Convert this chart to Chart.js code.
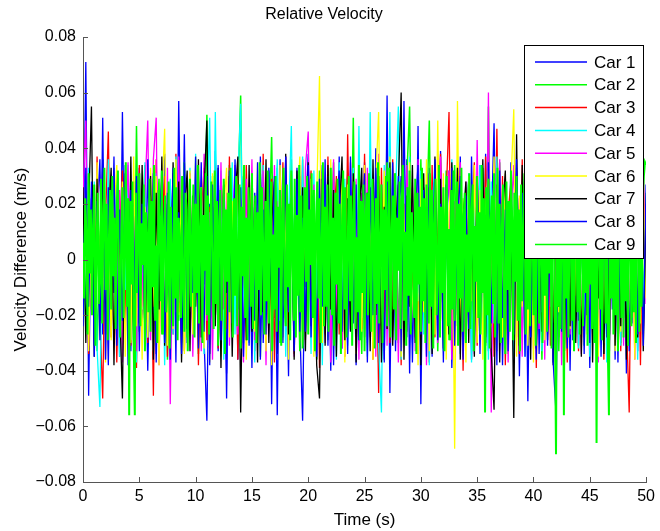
<!DOCTYPE html>
<html>
<head>
<meta charset="utf-8">
<script src="https://cdn.jsdelivr.net/npm/chart.js@4.4.1/dist/chart.umd.min.js"></script>
<style>
  html, body { margin: 0; padding: 0; background: #fff; }
  #wrap { width: 660px; height: 531px; }
</style>
</head>
<body>
<div id="wrap"><canvas id="velocityChart" width="660" height="531"></canvas></div>
<script>
const timeSpan = 50;
const carNames = ['Car 1', 'Car 2', 'Car 3', 'Car 4', 'Car 5', 'Car 6', 'Car 7', 'Car 8', 'Car 9'];
const carColors = ['#0000ff', '#00ff00', '#ff0000', '#00ffff', '#ff00ff', '#ffff00', '#000000', '#0000ff', '#00ff00'];
const carLineWidths = [1.3, 1.5, 1.3, 1.3, 1.3, 1.3, 1.3, 1.3, 2];
const xTicks = [0, 5, 10, 15, 20, 25, 30, 35, 40, 45, 50];
const yTicks = [-0.08, -0.06, -0.04, -0.02, 0, 0.02, 0.04, 0.06, 0.08];

const car1 = [
  -8, 71, -49, 22, -31, 14, 36, -27, 9, -38, 30, -12, 25, -35, 53, -20, 11, -33, 28, -6,
  33, -25, 18, -40, 7, 29, -34, 15, -19, 38, -28, 4, 31, -37, 57, -16, 45, -30, 12, -24,
  27, -9, 35, -29, -58, 20, -14, 39, -33, 6, 26, -41, 17, -22, 34, -36, 10, 30, -26, 19,
  -39, 24, -11, 37, -30, 8, 32, -52, 21, -17, 36, -28, 13, -42, 29, -5, 33, -24, -58, 16,
  38, -21, 25, -36, 11, 34, -27, 19, -40, 28, -13, 37, -32, 5, 31, -25, 22, -38, 15, -18,
  35, -30, 9, -26, 40, -15, 27, -37, 59, -48, 23, -33, 14, 30, -22, 36, -41, 18, -28, 48,
  -52, 26, -10, 33, -35, 21, -24, 39, -29, 12, 32, -39, 17, -20, 37, -31, 7, 29, -36, 24,
  -15, 34, -27, 38, -33, 10, 49, -23, 28, -38, 19, -12, 35, -30, 25, -42, 14, 31, -51, 20,
  -26, 37, -34, 13, 30, -21, 39, -37, 8, -28, 33, -16, 26, -40, 22, 36, -31, 11, -25, 34,
  -39, 18, 29, -35, 24, -19, 38, -29, 15, -36, 31, -8, 27, -41, 35, -23, 20, -33, 43, -27,
  12
];
const car2 = [
  14, -22, 30, -18, 25, -33, 8, 27, -29, 19, -11, 33, -24, 16, -35, 28, -7, 21, -30, 48,
  -26, 12, 34, -19, 23, -31, 10, 29, -27, 17, -36, 24, -13, 31, -22, 6, 35, -28, 20, -15,
  26, -34, 18, -9, 52, -25, 30, -20, 13, -32, 27, -17, 34, -26, 9, 22, 59, -30, 15, -23,
  31, -12, 25, -35, 19, -28, 7, 44, -21, 33, -30, 14, 28, -18, 36, -27, 11, -33, 23, -10,
  29, -24, 17, -36, 32, -14, 26, -29, 8, 35, -22, 20, -31, 13, 30, -19, 51, -26, 16, -34,
  24, -11, 33, -28, 18, -37, 27, -16, 35, -23, 10, 31, -30, 22, -8, 29, 55, -25, 14, -32,
  36, -20, 12, 50, -27, 25, -33, 19, -14, 32, -29, 9, 34, -24, 21, -35, 15, 28, -18, 30,
  -26, 13, 33, -31, 55, -21, 27, -12, 35, -28, 18, -34, 23, -9, 31, -25, 16, -30, 29, -17,
  34, -23, 11, -36, 26, -15, 30, -27, 20, -33, 8, 32, -22, 17, -29, 35, -13, 25, -31, 19,
  -20, 31, -26, 14, 28, -34, 22, -10, 33, -24, 18, -30, 27, -16, 36, -21, 12, -28, 30, -19,
  24
];
const car3 = [
  -12, 29, -34, 18, -25, 37, -20, -50, 15, 46, -28, 21, -37, 9, 32, -23, 26, -31, 13, -39,
  34, -16, 27, -30, 20, -49, 36, -24, 11, 30, -35, 17, -27, 38, -19, 25, -33, 8, 31, -26,
  22, -38, 14, 33, -29, 19, -21, 36, -32, 10, 28, -25, 37, -15, 24, -36, 18, -28, 34, -11,
  27, -33, 16, -22, 38, -30, 12, 29, -37, 21, -18, 35, -26, 9, 31, -34, 23, -13, 36, -29,
  15, 32, -24, 19, -39, 26, -16, 37, -31, 11, 30, -27, 22, -35, 45, -20, 28, -32, 14, -25,
  38, -14, 25, -36, 18, -48, 33, -22, 12, -30, 36, -19, 27, -38, 20, -26, 31, -11, 24, -34,
  29, -21, 16, -37, 34, -28, 10, 38, -25, 22, 53, -33, 19, -16, 32, -40, 26, -23, 13, 35,
  -31, 24, -18, 37, -27, 14, -35, 47, -22, 30, -38, 17, 28, -29, 11, -34, 36, -20, 25, -13,
  33, -39, 21, -26, 15, 38, -31, 27, -17, 34, -24, 12, -37, 29, -20, 23, -33, 37, -28, 16,
  -22, 35, -30, 19, 31, -36, 25, -14, 38, -27, 13, -33, 28, -21, -55, 32, -25, 18, -38, 30,
  -10
];
const car4 = [
  17, -26, 33, -14, 28, -32, -53, 21, -19, 36, -24, 12, 30, -35, 25, -11, 34, -29, 19, -37,
  27, -18, 35, -28, 13, -33, 31, -22, 24, -38, 16, 29, -27, 37, -15, 22, -31, 10, 33, -25,
  38, -20, 26, -34, 18, 51, -29, 53, -17, 32, -36, 21, -12, 35, -27, 28, 56, -23, 14, -30,
  31, -37, 23, -16, 34, -26, 19, -33, 11, 36, -22, 27, -35, 15, 48, -30, 24, -19, 37, -28,
  20, -34, 32, -13, 26, -38, 17, 30, -25, 22, -36, 35, -18, 29, -31, 12, 33, -27, 48, -21,
  28, -35, 53, -24, 19, -31, -55, 34, -17, 53, -29, 23, 55, -36, 14, -22, 37, -30, 21, -15,
  32, -27, 24, -38, 18, 35, -21, 29, -33, 13, -26, 36, -19, 27, -34, 22, -12, 31, -37, 25,
  -16, 34, -29, 20, -36, 28, -23, 37, -31, 15, 30, -25, 21, -38, 33, -18, 26, -35, 12, -28,
  36, -21, 29, -33, 17, -27, 32, -37, 24, -14, 35, -30, 19, 28, -24, 38, -32, 16, -26, 31,
  -35, 23, -18, 34, -29, 26, -37, 13, 30, -22, 37, -31, 20, -27, 33, -16, 25, -36, 29, -20,
  18
];
const car5 = [
  22, 50, -31, 15, -27, 34, -20, 29, -36, 18, -13, 32, -28, 25, -37, 11, 35, -24, 19, -33,
  30, -17, 24, 50, -29, 36, 51, -38, 14, -26, 33, -52, 21, -19, 37, -30, 27, -15, 31, -35,
  13, 28, -33, 38, -22, 17, -36, 30, -25, 35, -18, 24, -31, 9, 34, -27, 22, -37, 29, -16,
  36, -29, 19, -24, 32, -38, 26, -13, 34, -31, 16, -21, 37, -28, 23, -35, 12, 30, -26, 33,
  46, -23, 27, -34, 14, 31, -30, 21, -37, 36, -19, 25, -32, 18, -27, 35, -14, 29, -36, 24,
  -21, 33, -28, 17, -35, 38, -24, 20, -31, 30, -16, 27, -37, 22, -29, 34, -12, 26, -33, 36,
  -25, 19, -38, 31, -20, 24, -30, 37, -27, 15, 32, -36, 21, -18, 35, -32, 28, -23, 13, -34,
  43, -26, 18, -30, 60, -55, 25, -33, 36, -21, 29, -37, 16, 34, -28, 22, -35, 31, -19, 27,
  -32, 37, -25, 20, -36, 28, -17, 33, -30, 24, -38, 15, 31, -27, 36, -22, 19, -34, 26, -14,
  35, -29, 23, -37, 30, -18, 27, -33, 14, 38, -26, 21, -31, 34, -23, 17, -36, 29, -20, 32,
  -16
];
const car6 = [
  -18, 27, -33, 20, -26, 35, -14, 31, -37, 23, -29, 16, 34, -22, 28, -35, 12, -30, 37, -24,
  25, -36, 19, -28, 33, -17, 30, -38, 22, 47, -31, 14, -25, 36, -20, 29, -34, 11, 32, -27,
  37, -23, 26, -32, 15, -37, 31, -19, 24, -35, 18, 33, -28, 21, -13, 36, -30, 27, -36, 10,
  30, -26, 35, -21, 17, -33, 28, -38, 23, -15, 34, -29, 19, -36, 31, -24, 13, 37, -31, 25,
  -18, 29, -35, 22, 66, -30, 16, -27, 36, -32, 24, -20, 33, -37, 27, -14, 30, -34, 18, -26,
  34, -31, 21, -36, 28, 53, -25, 32, -17, 37, -29, 12, 26, -35, 20, -23, 35, -28, 15, -38,
  29, -19, 36, -33, 24, -27, 50, -22, 31, -36, 17, 33, -68, 57, -26, 22, -37, 30, -15, 34,
  -30, 25, -36, 19, 32, -24, 37, -33, 14, -28, 31, -21, 27, 54, -35, 23, -17, 34, -31, 20,
  -37, 28, -22, 35, -29, 16, 33, -34, 26, -19, 30, -38, 21, -25, 36, -13, 29, -32, 24, -27,
  33, -21, 18, -35, 27, -30, 37, -16, 23, -33, 31, -26, 15, 35, -28, 20, -36, 29, -23, 26,
  -14
];
const car7 = [
  26, -30, 18, 55, -35, 29, -22, 36, -27, 14, 33, -38, 21, -16, -50, 31, -25, 37, -32, 19,
  -23, 34, -29, 12, 30, -36, 24, -18, 37, -31, 20, -26, 35, -14, 28, -37, 16, 32, -33, 23,
  -17, 36, -28, 25, 50, -34, 19, -24, 33, -39, 27, -12, 30, -35, 22, 37, -55, 15, -29, 34,
  -26, 21, -37, 31, -19, 36, -30, 13, 28, -34, 24, -21, 38, -27, 17, -36, 32, -15, 26, -33,
  35, -24, 20, -38, -50, 29, -31, 34, -18, 25, -35, 16, 37, -29, 22, -26, 31, -37, 14, 33,
  -28, 24, -33, 36, -20, 30, -37, 19, -25, 35, -31, 12, 27, 60, -36, 23, -17, 34, -30, 21,
  -38, 31, -22, 26, -34, 37, -16, 29, -32, 18, -27, 35, -21, 33, -36, 14, 28, -30, 24, -35,
  30, -19, 36, -28, 22, -33, -54, 27, -37, 16, 32, -25, 20, -57, 45, -31, 34, -23, 19, -36,
  27, -32, 15, -26, 37, -29, 23, -38, 31, -17, 34, -33, 21, -24, 36, -30, 18, -35, 28, -20,
  33, -37, 25, -14, 30, -34, 22, -27, 36, -31, 16, -24, 35, -36, 29, -19, 32, -28, 24, -33,
  20
];
const car8 = [
  -24, 33, -17, 28, -35, 21, -29, 51, -36, 26, -13, 37, -31, 18, -22, 34, -38, 25, -16, 30,
  -33, 20, -27, 36, -19, 31, -37, 14, 29, -30, 24, -36, 33, -21, 17, -34, 35, -25, 22, -12,
  37, -32, 19, -26, 30, -38, 27, -15, 34, -29, 21, -50, 32, -23, 36, -18, 26, -35, 13, -31,
  28, -22, 35, -36, 18, -27, 33, -14, 30, -56, 25, -30, 37, -19, 22, -33, 29, -26, 15, -26,
  34, -28, 21, -35, 29, -17, 36, -31, 24, -38, 19, 32, -26, 15, -34, 37, -23, 27, -29, 12,
  31, -37, 26, -20, 33, -30, 18, -36, 28, -24, 35, -15, 30, -33, 57, -28, 22, -37, 17, 34,
  -27, 25, -35, 31, -18, 36, -29, 20, -37, 27, -22, 33, -31, 14, 30, -36, 23, -25, 37, -19,
  28, -34, 16, -30, 35, -23, 26, -38, 32, -21, 18, -33, 29, -27, 36, -16, 24, -35, 31, -28,
  22, -36, 34, -19, 27, -31, 17, -37, -55, 25, -26, 35, -32, 20, -29, 37, -22, 30, -34, 15,
  -30, 33, -24, 36, -35, 21, -28, 31, -18, 34, -37, 26, -21, 29, -33, 19, 37, -27, 23, -31,
  27
];
// Car 9 is drawn last and is sampled finer (every 0.1 s)
const car9 = [
  6, -14, 22, 9, -27, 31, -5, 18, -20, 12, 27, -31, 3, 24, -16, -8, 29, -23, 14, 33, -11, 20, -29, 7, 25,
  -18, 30, -6, 15, -25, 19, 32, -13, -28, 11, 26, -21, 4, 35, -17, 22, -56, 21, -9, 28, -30, -56, 24, -12, 9,
  31, -24, 13, -2, 27, -33, 17, 8, -19, 29, -26, 21, -10, 34, -22, 5, -30, 25, 14, -15, 32, -27, 10, 23, -19,
  -7, 28, -32, 19, 1, -24, 33, -14, 26, -29, 15, 6, -21, 30, -11, -26, 24, 18, -33, 12, 29, -17, 3, 27, -28,
  20, -12, 34, -23, 9, 26, -30, 16, -4, 31, -20, 23, -27, 11, 28, -9, -25, 32, -16, 21, -31, 14, 25, -22, 7,
  29, -34, 18, -8, 24, -19, 33, 10, -28, 22, -13, 30, -24, 2, 27, -32, 19, -6, 34, -21, 15, -29, 26, 12, -17,
  31, -25, 8, 23, -30, 17, -11, 35, -20, 26, 4, -27, 21, -15, 32, -23, 13, 28, -33, 9, -18, 30, -26, 19, -3,
  25, -31, 14, 33, -16, -24, 27, -10, 20, -29, 32, 7, -22, 29, -28, 16, -13, 34, -19, 23, -32, 11, 26, -8, 30,
  -27, 18, -2, 31, -21, 25, -33, 13, 28, -14, 22, -30, 6, 35, -24, 19, -17, 27, -26, 10, 33, -20, 15, -31, 24,
  -9, 29, -23, 20, -34, 12, 32, -18, 26, -28, 3, 30, -15, 23, -31, 17, 28, -25, 8, -19, 34, -29, 21, -12, 27,
  -33, 16, 24, -20, 31, -7, -26, 29, 11, -32, 22, -16, 35, -23, 5, 27, -30, 18, -11, 30, -24, 14, 33, -28, 9,
  23, -18, 31, -29, 15, -4, 28, -25, 20, 34, -22, 10, -31, 26, -13, 32, -27, 17, 3, -21, 29, -34, 24, -9, 19,
  -26, 33, -15, 22, -30, 27, 8, -23, 31, -17, 25, -32, 13, 29, -20, -6, 34, -28, 19, -12, 26, -33, 16, 30, -24,
  11, -29, 25, -18, 32, -22, 7, 28, -31, 20, -14, 33, -26, 15, 24, -30, 9, -19, 31, -25, 18, 27, -33, 12, -8,
  30, -21, 17, -27, 34, -12, 22, -55, 26, -20, 29, -32, 14, 23, -16, 31, -28, 4, 33, -23, 20, -30, 12, 27, -19,
  -34, 28, -11, 21, -26, 32, 15, -29, 24, -8, 30, -22, 18, -33, 27, -15, 9, 31, -27, 22, -18, 34, -24, 13, 29,
  -20, 25, -31, 16, 33, -23, 6, 28, -30, 19, -13, 32, -26, 21, -5, 27, -32, 14, 30, -21, -70, 24, -17, 31, -25,
  18, 29, -56, 23, -14, 33, -28, 10, 26, -22, 31, -33, 17, 24, -19, 30, -27, 8, 34, -24, 20, -12, 28, -31, 15,
  -9, 32, -25, 21, -30, 27, -66, 19, 30, -18, 25, -29, 12, 33, -23, 16, -32, -56, 28, -14, 22, -27, 31, -20, 26,
  -33, 17, 29, -21, 24, -28, 35, -15, 20, -31, 27, 11, -24, 32, -19, 23, -30, 14, 28, -26, 33, -17, 21, 30, 35,
  34
];
const carSeries = [car1, car2, car3, car4, car5, car6, car7, car8, car9];

const FONT = '"Liberation Sans", Arial, Helvetica, sans-serif';

function fmtTick(v) {
    if (Math.abs(v) < 1e-9) return '0';
    const s = Math.abs(v).toFixed(2);
    return v < 0 ? '\u2212' + s : s;
}

// inward tick marks, MATLAB style
const innerTicks = {
    id: 'innerTicks',
    afterDraw(chart) {
        const ctx = chart.ctx, a = chart.chartArea;
        const xs = chart.scales.x, ys = chart.scales.y;
        ctx.save();
        ctx.strokeStyle = '#555';
        ctx.lineWidth = 1;
        ctx.beginPath();
        xTicks.forEach(t => {
            const px = Math.round(xs.getPixelForValue(t)) + 0.5;
            ctx.moveTo(px, a.bottom); ctx.lineTo(px, a.bottom - 5);
        });
        yTicks.forEach(t => {
            const py = Math.round(ys.getPixelForValue(t)) + 0.5;
            ctx.moveTo(a.left, py); ctx.lineTo(a.left + 5, py);
        });
        ctx.stroke();
        ctx.restore();
    }
};

// boxed legend in the upper right corner of the axes
const boxLegend = {
    id: 'boxLegend',
    afterDatasetsDraw(chart) {
        const ctx = chart.ctx;
        const left = 524, top = 45, w = 119, h = 213;
        ctx.save();
        ctx.fillStyle = '#fff';
        ctx.fillRect(left, top, w, h);
        ctx.strokeStyle = '#000';
        ctx.lineWidth = 1;
        ctx.strokeRect(left + 0.5, top + 0.5, w, h);
        ctx.font = '17px ' + FONT;
        ctx.textBaseline = 'middle';
        carNames.forEach((name, i) => {
            const y = 62 + i * 22.8;
            ctx.strokeStyle = carColors[i];
            ctx.lineWidth = 1.5;
            ctx.beginPath();
            ctx.moveTo(535, y); ctx.lineTo(587, y);
            ctx.stroke();
            ctx.fillStyle = '#000';
            ctx.fillText(name, 594, y + 1);
        });
        ctx.restore();
    }
};

function renderVelocityChart() {
    const ctx = document.getElementById('velocityChart').getContext('2d');
    const datasets = carSeries.map((vals, i) => {
        const step = timeSpan / (vals.length - 1);
        return {
            label: carNames[i],
            data: vals.map((v, k) => ({ x: k * step, y: v / 1000 })),
            borderColor: carColors[i],
            backgroundColor: carColors[i],
            borderWidth: carLineWidths[i],
            pointRadius: 0,
            tension: 0,
            fill: false,
            order: carNames.length - i
        };
    });
    new Chart(ctx, {
        type: 'line',
        data: { datasets },
        options: {
            responsive: false,
            animation: false,
            events: [],
            layout: { padding: { left: 0, right: 12, top: 0, bottom: 0 } },
            plugins: {
                legend: { display: false },
                tooltip: { enabled: false },
                title: {
                    display: true,
                    text: 'Relative Velocity',
                    color: '#000',
                    font: { family: FONT, size: 16, weight: 'normal' },
                    padding: { top: 5, bottom: 12.8 }
                }
            },
            scales: {
                x: {
                    type: 'linear', min: 0, max: 50,
                    afterBuildTicks: s => { s.ticks = xTicks.map(v => ({ value: v })); },
                    afterFit: s => { s.height = 49; },
                    grid: { display: false, drawTicks: false },
                    border: { display: true, color: '#555', width: 1 },
                    ticks: { color: '#000', padding: 5, maxRotation: 0, font: { family: FONT, size: 16 }, callback: v => String(v) },
                    title: { display: true, text: 'Time (s)', color: '#000', font: { family: FONT, size: 17 }, padding: { top: 0, bottom: 0 } }
                },
                y: {
                    type: 'linear', min: -0.08, max: 0.08,
                    afterBuildTicks: s => { s.ticks = yTicks.map(v => ({ value: v })); },
                    afterFit: s => { s.width = 83; },
                    grid: { display: false, drawTicks: false },
                    border: { display: true, color: '#555', width: 1 },
                    ticks: { color: '#000', padding: 7, font: { family: FONT, size: 16 }, callback: v => fmtTick(v) },
                    title: { display: true, text: 'Velocity Difference (m/s)', color: '#000', font: { family: FONT, size: 17 }, padding: { top: 11, bottom: 0 } }
                }
            }
        },
        plugins: [innerTicks, boxLegend]
    });
}

renderVelocityChart();
</script>
</body>
</html>
